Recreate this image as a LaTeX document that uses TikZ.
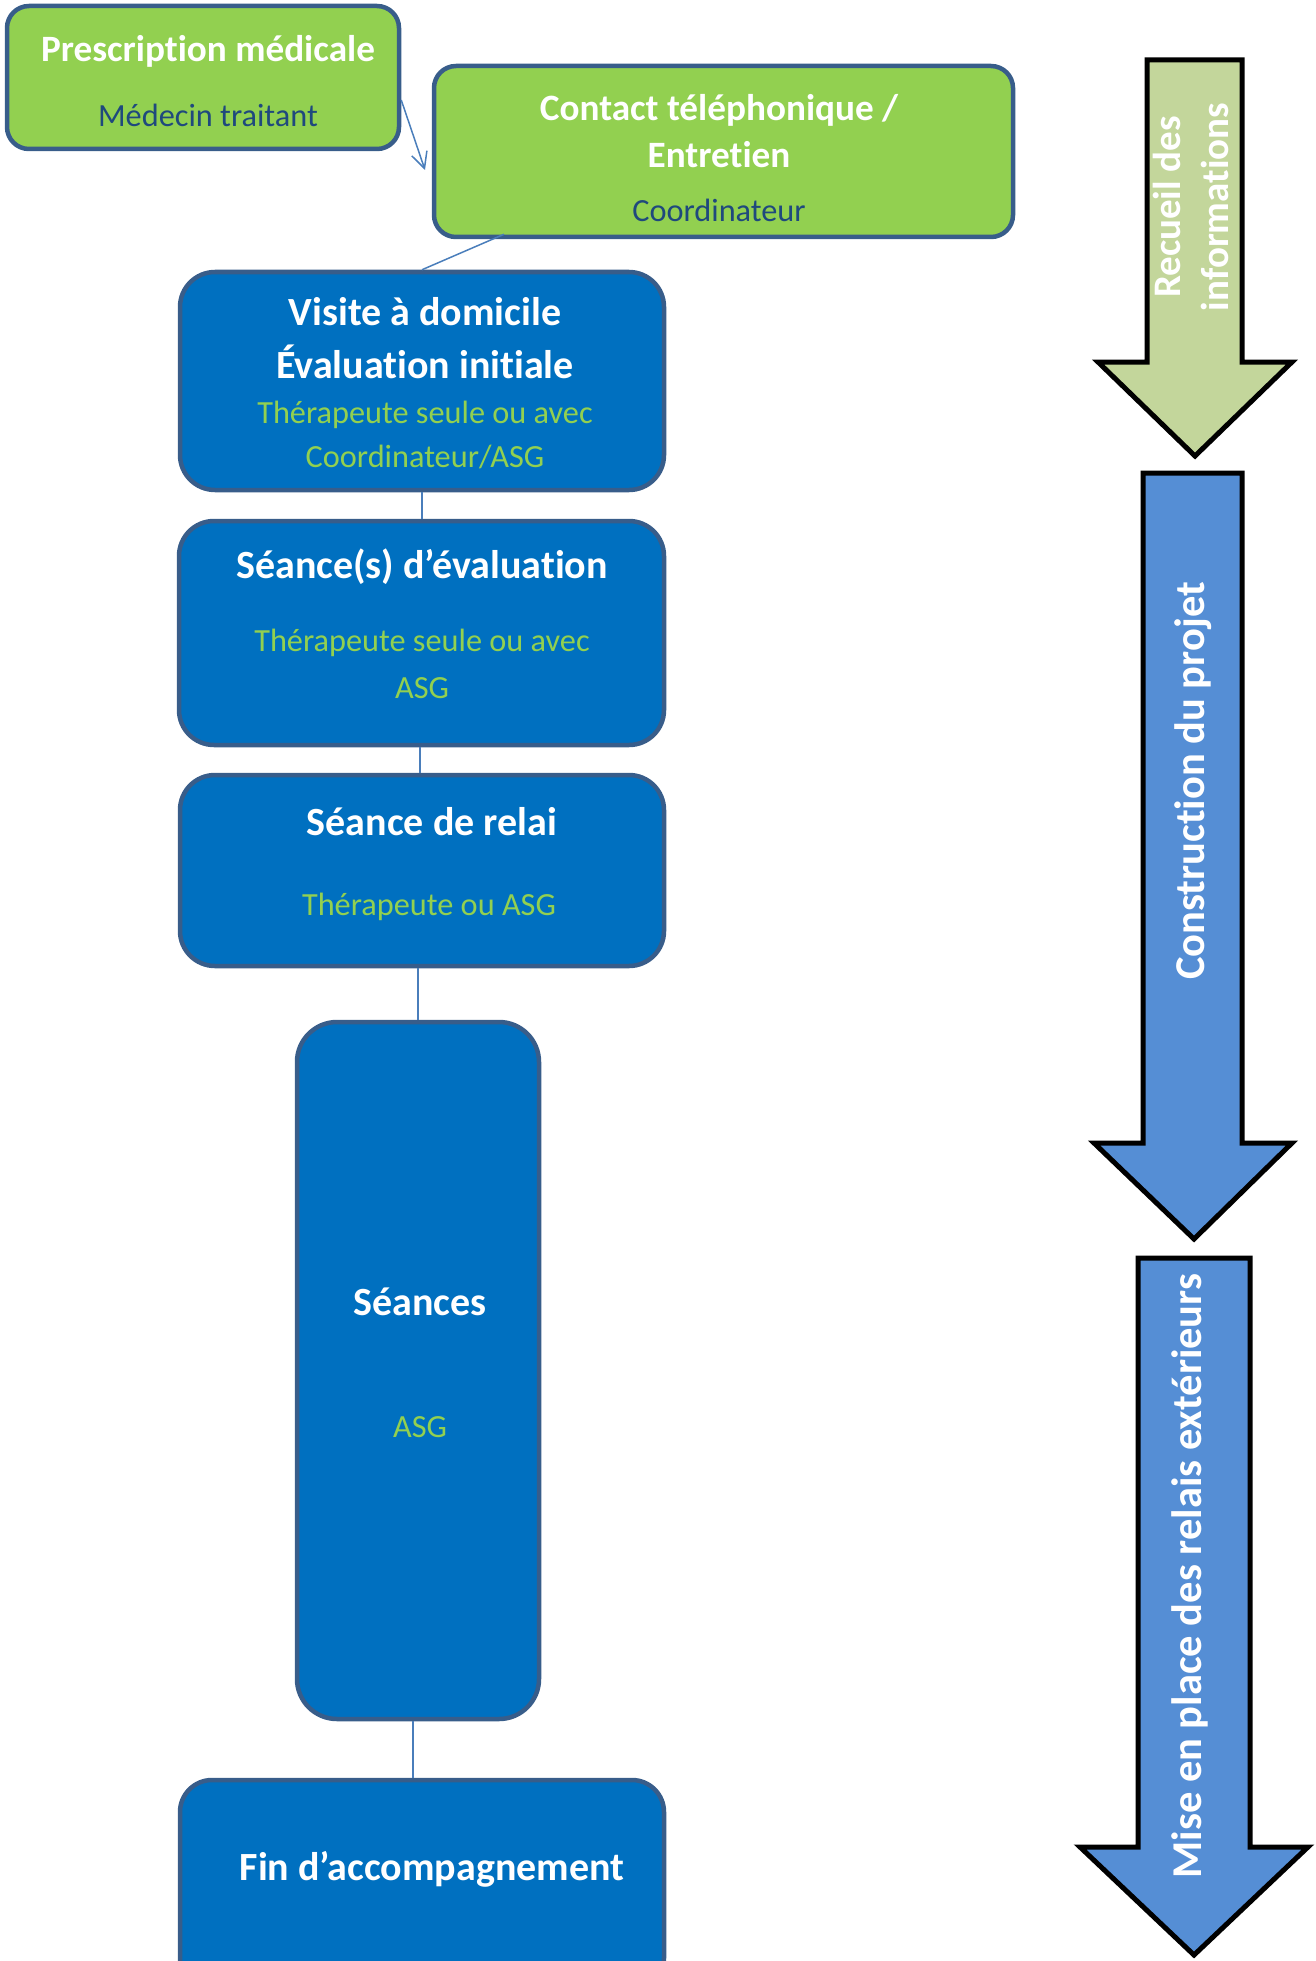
\documentclass[tikz,border=0pt]{standalone}
\usepackage{fontspec}
\setmainfont{Carlito}[Ligatures=NoCommon]
\usetikzlibrary{arrows.meta}
\definecolor{gfill}{HTML}{92D050}
\definecolor{bfill}{HTML}{0070C0}
\definecolor{bord}{HTML}{385D8A}
\definecolor{navy}{HTML}{1F497D}
\definecolor{conn}{HTML}{4A7EBB}
\definecolor{afill}{HTML}{C3D69B}
\definecolor{bafill}{HTML}{558ED5}
\tikzset{
  box/.style={draw=bord, line width=4.5pt, rounded corners=#1, inner sep=0pt},
  gbox/.style={box=22pt, fill=gfill},
  bbox/.style={box=35pt, fill=bfill},
  ttl/.style={text=white, font=\fontsize{40}{44}\selectfont\bfseries, inner sep=0pt},
  gttl/.style={text=white, font=\fontsize{37.2}{41}\selectfont\bfseries, inner sep=0pt},
  sub/.style={text=navy, font=\fontsize{32.3}{36}\selectfont, inner sep=0pt},
  gsub/.style={text=gfill, font=\fontsize{32.3}{36}\selectfont, inner sep=0pt},
  link/.style={draw=conn, line width=1.5pt},
  bigarrow/.style={draw=black, line width=5pt, miter limit=10},
  atext/.style={text=white, rotate=90, font=\fontsize{42.5}{49}\selectfont\bfseries, inner sep=0pt, align=center}
}
\begin{document}
\begin{tikzpicture}[x=1pt, y=-1pt]
\useasboundingbox (0,0) rectangle (1316,1961);
\clip (0,0) rectangle (1316,1961);

% boxes
\node[gbox, minimum width=392pt, minimum height=143pt] (presc) at (203,77.5) {};
\node[gbox, minimum width=579pt, minimum height=171pt] (contact) at (723.5,151.5) {};
\node[bbox, minimum width=484pt, minimum height=218pt] (visite) at (422,381) {};
\node[bbox, minimum width=485pt, minimum height=224pt] (seval) at (421.5,633) {};
\node[bbox, minimum width=484pt, minimum height=191pt] (relai) at (422,870.5) {};
\node[box=40pt, fill=bfill, minimum width=242pt, minimum height=697pt] (seances) at (418,1370.5) {};
\node[box=32pt, fill=bfill, minimum width=484pt, minimum height=210pt] (fin) at (422,1885) {};

% texts
\node[gttl] (t1) at (208,51) {Prescription médicale};
\node[sub] (t2) at (208,115) {Médecin traitant};
\node[gttl] (t3) at (719,110) {Contact téléphonique /};
\node[gttl] (t4) at (719,155) {Entretien};
\node[sub] (t5) at (719,210) {Coordinateur};
\node[ttl] (t6) at (425,312) {Visite à domicile};
\node[ttl] (t7) at (425,362) {Évaluation initiale};
\node[gsub] (t8) at (425,415) {Thérapeute seule ou avec};
\node[gsub] (t9) at (425,457) {Coordinateur/ASG};
\node[ttl] (t10) at (422,567) {Séance(s) d’évaluation};
\node[gsub] (t11) at (422,643) {Thérapeute seule ou avec};
\node[gsub] (t12) at (422,688) {ASG};
\node[ttl] (t13) at (432,822) {Séance de relai};
\node[gsub] (t14) at (429,907) {Thérapeute ou ASG};
\node[ttl] (t15) at (420,1302) {Séances};
\node[gsub] (t16) at (420,1427) {ASG};
\node[ttl] (t17) at (432,1869) {Fin d’accompagnement};

% connectors
\coordinate (a2) at (425,170);
\draw[link, -{Straight Barb[length=16pt, width=16pt, line width=1.5pt]}] ([yshift=-22.5pt]presc.east) -- (a2);
\draw[link] ([xshift=-219.5pt, yshift=5pt]contact.south) -- (visite.north);
\draw[link] (visite.south) -- (visite.south |- seval.north);
\draw[link] ([xshift=-1.5pt]seval.south) -- ([xshift=-1.5pt]seval.south |- relai.north);
\draw[link] (seances.north |- relai.south) -- (seances.north);
\draw[link] ([xshift=-5pt]seances.south) -- ([xshift=-5pt]seances.south |- fin.north);

% big arrows
\draw[bigarrow, fill=afill] (1147,60) -- (1242,60) -- (1242,362) -- (1292,362) -- (1195,456) -- (1098,362) -- (1147,362) -- cycle;
\draw[bigarrow, fill=bafill] (1143,473) -- (1242,473) -- (1242,1143) -- (1292,1143) -- (1194,1239) -- (1094,1143) -- (1143,1143) -- cycle;
\draw[bigarrow, fill=bafill] (1138,1258) -- (1250,1258) -- (1250,1847) -- (1308,1847) -- (1194,1955) -- (1080,1847) -- (1138,1847) -- cycle;

\node[atext, font=\fontsize{39}{48}\selectfont\bfseries] (r1) at (1191,207) {Recueil des\\informations};
\node[atext] (r2) at (1193,781) {Construction du projet};
\node[atext] (r3) at (1190,1576) {Mise en place des relais extérieurs};
\end{tikzpicture}
\end{document}
